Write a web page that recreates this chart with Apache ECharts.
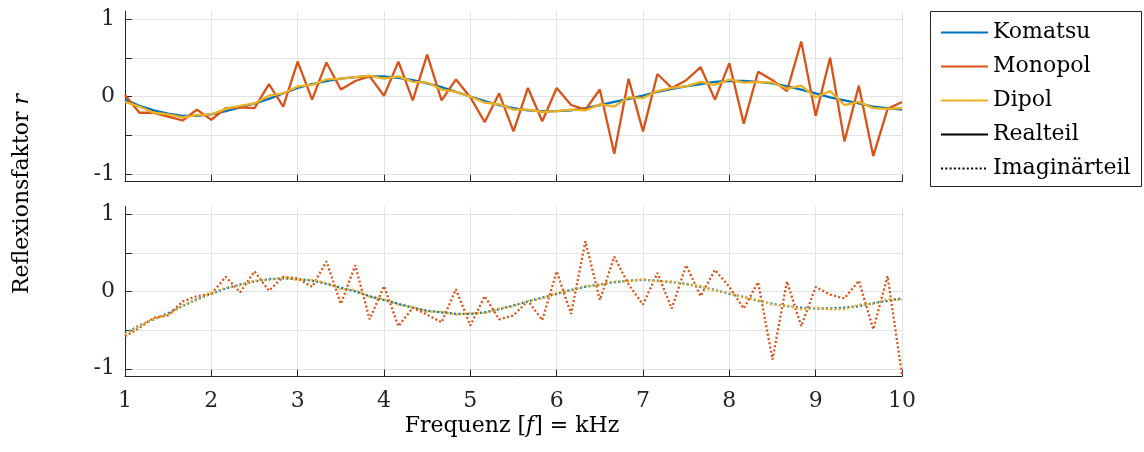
<!DOCTYPE html>
<html>
<head>
<meta charset="utf-8">
<script src="https://cdn.jsdelivr.net/npm/echarts@6/dist/echarts.min.js"></script>
<style>
html,body{margin:0;padding:0;background:#fff;}
#chart{width:1144px;height:452px;}
</style>
</head>
<body>
<div id="chart"></div>
<script>
// Frequency sampling points (kHz)
const freq = [1.000,1.167,1.333,1.500,1.667,1.833,2.000,2.167,2.333,2.500,2.667,2.833,3.000,3.167,3.333,3.500,3.667,3.833,4.000,4.167,4.333,4.500,4.667,4.833,5.000,5.167,5.333,5.500,5.667,5.833,6.000,6.167,6.333,6.500,6.667,6.833,7.000,7.167,7.333,7.500,7.667,7.833,8.000,8.167,8.333,8.500,8.667,8.833,9.000,9.167,9.333,9.500,9.667,9.833,10.000];

// Real parts (top plot)
const komatsuRe = [-0.04,-0.12,-0.18,-0.22,-0.25,-0.25,-0.23,-0.19,-0.14,-0.09,-0.03,0.04,0.11,0.16,0.20,0.23,0.25,0.26,0.26,0.24,0.21,0.17,0.12,0.06,0.00,-0.06,-0.11,-0.15,-0.18,-0.19,-0.19,-0.18,-0.15,-0.11,-0.07,-0.03,0.01,0.06,0.10,0.13,0.16,0.19,0.20,0.20,0.19,0.17,0.13,0.09,0.04,-0.01,-0.05,-0.09,-0.13,-0.15,-0.17];
const monopolRe = [0.02,-0.21,-0.21,-0.26,-0.31,-0.17,-0.30,-0.15,-0.14,-0.15,0.16,-0.13,0.45,-0.04,0.44,0.09,0.20,0.26,0.01,0.45,-0.05,0.54,-0.05,0.22,-0.01,-0.33,0.04,-0.45,0.11,-0.32,0.11,-0.11,-0.17,0.09,-0.74,0.23,-0.45,0.29,0.11,0.21,0.38,-0.04,0.43,-0.35,0.32,0.21,0.07,0.71,-0.25,0.50,-0.58,0.14,-0.77,-0.16,-0.07];
const dipolRe = [-0.07,-0.13,-0.21,-0.23,-0.27,-0.24,-0.23,-0.16,-0.12,-0.09,0.01,0.04,0.13,0.15,0.22,0.23,0.25,0.27,0.23,0.26,0.19,0.18,0.09,0.06,0.00,-0.08,-0.10,-0.17,-0.17,-0.20,-0.19,-0.17,-0.18,-0.10,-0.13,-0.01,-0.02,0.07,0.11,0.13,0.19,0.15,0.22,0.18,0.19,0.18,0.10,0.14,-0.01,0.07,-0.11,-0.07,-0.15,-0.16,-0.15];

// Imaginary parts (bottom plot)
const komatsuIm = [-0.54,-0.44,-0.36,-0.28,-0.19,-0.10,-0.03,0.04,0.09,0.13,0.16,0.17,0.16,0.14,0.10,0.05,0.00,-0.06,-0.11,-0.16,-0.21,-0.25,-0.27,-0.29,-0.29,-0.27,-0.23,-0.18,-0.13,-0.08,-0.03,0.02,0.06,0.09,0.12,0.14,0.15,0.14,0.12,0.10,0.06,0.02,-0.03,-0.07,-0.12,-0.16,-0.19,-0.21,-0.22,-0.22,-0.21,-0.19,-0.15,-0.12,-0.09];
const monopolIm = [-0.58,-0.47,-0.34,-0.31,-0.13,-0.06,-0.03,0.19,-0.01,0.26,0.01,0.19,0.17,0.06,0.39,-0.16,0.34,-0.36,0.07,-0.45,-0.21,-0.30,-0.40,0.03,-0.44,-0.06,-0.36,-0.31,-0.12,-0.37,0.26,-0.29,0.65,-0.11,0.45,0.09,-0.17,0.24,-0.22,0.34,-0.06,0.28,0.06,-0.22,0.12,-0.88,0.13,-0.45,0.06,-0.04,-0.09,0.14,-0.49,0.20,-1.08];
const dipolIm = [-0.55,-0.45,-0.35,-0.30,-0.18,-0.11,-0.02,0.05,0.08,0.14,0.15,0.18,0.15,0.15,0.11,0.03,0.02,-0.07,-0.10,-0.17,-0.20,-0.26,-0.26,-0.30,-0.28,-0.28,-0.22,-0.19,-0.12,-0.09,-0.02,0.01,0.07,0.08,0.13,0.13,0.16,0.13,0.13,0.09,0.07,0.01,-0.02,-0.08,-0.11,-0.17,-0.18,-0.23,-0.21,-0.23,-0.23,-0.17,-0.16,-0.10,-0.11];

const xTicks = [1,2,3,4,5,6,7,8,9,10];
const yLabelTicks = [-1,0,1];
const yTicks = [-1,-0.5,0,0.5,1];

const C_KOM = '#0072BD', C_MON = '#D95319', C_DIP = '#EDB120';
const FONT = 'DejaVu Serif';
const FS = 22;
const AXC = '#262626';
const GRIDC = '#e3e3e3';
const DOT = [2, 2.3];
const LW = 2.3;

function pairs(ys){ return freq.map((f,i)=>[f, ys[i]]); }

function xAxisCfg(idx, showLabels){
  return {
    type:'value', gridIndex: idx, min:1, max:10, interval:1,
    axisLine:{show:true, onZero:false, lineStyle:{color:AXC, width:1}},
    axisTick:{show:true, inside:true, length:7, lineStyle:{color:AXC}, customValues: xTicks},
    axisLabel:{show:showLabels, color:AXC, fontFamily:FONT, fontSize:FS, margin:14, customValues: xTicks},
    splitLine:{show:true, lineStyle:{color:GRIDC, width:1}}
  };
}
function yAxisCfg(idx){
  return {
    type:'value', gridIndex: idx, min:-1.1, max:1.1,
    axisLine:{show:true, onZero:false, lineStyle:{color:AXC, width:1}},
    axisTick:{show:true, inside:true, length:7, lineStyle:{color:AXC}, customValues: yTicks},
    axisLabel:{show:true, color:AXC, fontFamily:FONT, fontSize:FS, margin:10, customValues: yLabelTicks,
      formatter: v => (v < 0 ? '-' + Math.abs(v) : String(v))},
    splitLine:{show:true, lineStyle:{color:GRIDC, width:1}}
  };
}
function lineSeries(name, ys, color, gi, dotted){
  return {
    name, type:'line', xAxisIndex:gi, yAxisIndex:gi, data:pairs(ys),
    showSymbol:false, symbol:'none', animation:false,
    lineStyle:{color, width:LW, type: dotted ? DOT : 'solid'},
    itemStyle:{color}
  };
}

const chart = echarts.init(document.getElementById('chart'), null, {renderer:'canvas'});
chart.setOption({
  animation:false,
  backgroundColor:'#fff',
  grid:[
    {left:125, top:11.3, width:777, height:170.4},
    {left:125, top:206.5, width:777, height:170}
  ],
  xAxis:[xAxisCfg(0,false), xAxisCfg(1,true)],
  yAxis:[yAxisCfg(0), yAxisCfg(1)],
  legend:{
    orient:'vertical', left:940, top:19.5, padding:0,
    itemWidth:47, itemHeight:14, itemGap:8,
    selectedMode:false,
    data:['Komatsu','Monopol','Dipol','Realteil','Imaginärteil'],
    textStyle:{fontFamily:FONT, fontSize:FS, color:'#000', lineHeight:26},
    itemStyle:{opacity:0}
  },
  series:[
    lineSeries('Komatsu', komatsuRe, C_KOM, 0, false),
    lineSeries('Monopol', monopolRe, C_MON, 0, false),
    lineSeries('Dipol', dipolRe, C_DIP, 0, false),
    lineSeries('Komatsu', komatsuIm, C_KOM, 1, true),
    lineSeries('Monopol', monopolIm, C_MON, 1, true),
    lineSeries('Dipol', dipolIm, C_DIP, 1, true),
    {name:'Realteil', type:'line', xAxisIndex:0, yAxisIndex:0, data:[], symbol:'none',
      lineStyle:{color:'#000', width:LW}, itemStyle:{color:'#000'}},
    {name:'Imaginärteil', type:'line', xAxisIndex:0, yAxisIndex:0, data:[], symbol:'none',
      lineStyle:{color:'#000', width:LW, type:DOT}, itemStyle:{color:'#000'}}
  ],
  graphic:[
    {type:'rect', shape:{x:930.5, y:11.5, width:211, height:175},
      style:{fill:'none', stroke:AXC, lineWidth:1}, z:-1, silent:true},
    {type:'text', x:512, y:426, silent:true,
      style:{text:'Frequenz [{i|f}] = kHz', fill:'#000', font:FS + 'px "DejaVu Serif"',
        align:'center', verticalAlign:'middle',
        rich:{i:{fontStyle:'italic', fontFamily:FONT, fontSize:FS, fill:'#000'}}}},
    {type:'text', x:22, y:194, rotation:Math.PI/2, silent:true,
      style:{text:'Reflexionsfaktor {i|r}', fill:'#000', font:FS + 'px "DejaVu Serif"',
        align:'center', verticalAlign:'middle',
        rich:{i:{fontStyle:'italic', fontFamily:FONT, fontSize:FS, fill:'#000'}}}}
  ]
});
</script>
</body>
</html>
